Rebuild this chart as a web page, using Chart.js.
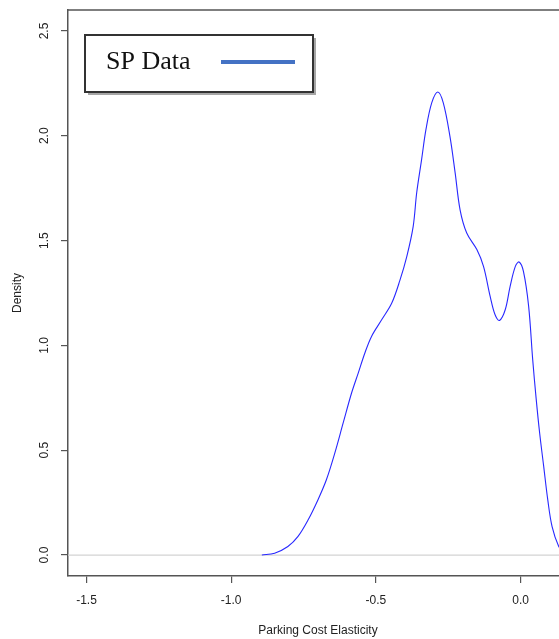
<!DOCTYPE html>
<html>
<head>
<meta charset="utf-8">
<script src="https://cdn.jsdelivr.net/npm/chart.js@4.4.1/dist/chart.umd.min.js"></script>
<style>
  html, body { margin:0; padding:0; background:#fff; overflow:hidden; }
  #wrap { position:relative; width:600px; height:639px; }
</style>
</head>
<body>
<div id="wrap"><canvas id="chart"></canvas></div>
<script>
// density estimate
var elasticity = [-0.894,-0.850,-0.804,-0.769,-0.734,-0.700,-0.671,-0.642,-0.613,-0.584,-0.561,-0.538,-0.515,-0.480,-0.445,-0.417,-0.393,-0.371,-0.359,-0.342,-0.327,-0.307,-0.286,-0.267,-0.244,-0.226,-0.209,-0.186,-0.151,-0.128,-0.105,-0.088,-0.073,-0.053,-0.036,-0.018,-0.005,0.010,0.028,0.042,0.054,0.066,0.080,0.094,0.109,0.132,0.150,0.170];
var density    = [0.000,0.009,0.041,0.089,0.168,0.264,0.359,0.486,0.630,0.773,0.868,0.964,1.043,1.122,1.202,1.310,1.425,1.568,1.727,1.886,2.029,2.157,2.209,2.157,1.997,1.823,1.647,1.536,1.457,1.377,1.234,1.146,1.119,1.170,1.282,1.377,1.398,1.353,1.186,0.932,0.745,0.582,0.423,0.264,0.136,0.041,0.012,0.002];
var xTicks = [-1.5, -1.0, -0.5, 0.0];
var yTicks = [0.0, 0.5, 1.0, 1.5, 2.0, 2.5];
var xMin = -1.564, xMax = 0.164;
var yMin = -0.1, yMax = 2.6;
var seriesName = "SP Data";
var xTitle = "Parking Cost Elasticity";
var yTitle = "Density";

var FONT = '"Liberation Sans", Arial, sans-serif';
var AXIS = "#555";
var TEXT = "#222";

var curve = elasticity.map(function(x, i){ return { x: x, y: density[i] }; });
var baseline = [{ x: xMin, y: 0 }, { x: xMax, y: 0 }];

// box, rotated y labels and the pasted-in legend
var frame = {
  id: "frame",
  afterDraw: function(chart){
    var ctx = chart.ctx, a = chart.chartArea, ys = chart.scales.y;
    ctx.save();
    ctx.strokeStyle = AXIS; ctx.lineWidth = 1.5;
    ctx.beginPath();
    ctx.moveTo(a.left, a.top); ctx.lineTo(a.right, a.top); ctx.lineTo(a.right, a.bottom);
    ctx.stroke();

    ctx.fillStyle = TEXT;
    ctx.font = "12px " + FONT;
    ctx.textAlign = "center"; ctx.textBaseline = "middle";
    ys.ticks.forEach(function(t){
      var py = ys.getPixelForValue(t.value);
      ctx.save();
      ctx.translate(45, py);
      ctx.rotate(-Math.PI / 2);
      ctx.fillText(t.value.toFixed(1), 0, 0);
      ctx.restore();
    });

    // legend
    var lx = 85, ly = 35, lw = 228, lh = 57;
    ctx.fillStyle = "rgba(0,0,0,0.35)";
    ctx.fillRect(lx + 3, ly + 3, lw, lh);
    ctx.fillStyle = "#fff";
    ctx.fillRect(lx, ly, lw, lh);
    ctx.strokeStyle = "#333"; ctx.lineWidth = 2;
    ctx.strokeRect(lx, ly, lw, lh);
    ctx.fillStyle = "#111";
    ctx.font = "26px \"Liberation Serif\", \"Times New Roman\", serif";
    ctx.textAlign = "left"; ctx.textBaseline = "alphabetic";
    ctx.fillText(seriesName, 106, 69);
    ctx.strokeStyle = "#4472c4"; ctx.lineWidth = 4;
    ctx.beginPath(); ctx.moveTo(221, 62); ctx.lineTo(295, 62); ctx.stroke();
    ctx.restore();
  }
};

new Chart(document.getElementById("chart"), {
  type: "line",
  data: {
    datasets: [
      { label: seriesName, data: curve, borderColor: "rgb(40,40,255)", borderWidth: 1.1, pointRadius: 0, tension: 0.35, fill: false, order: 0 },
      { label: "zero", data: baseline, borderColor: "#d3d3d3", borderWidth: 1.2, pointRadius: 0, fill: false, order: 1 }
    ]
  },
  options: {
    responsive: true, maintainAspectRatio: false, animation: false,
    layout: { padding: { left: 0, top: 10, right: 32, bottom: 0 } },
    plugins: { legend: { display: false }, tooltip: { enabled: false } },
    scales: {
      x: {
        type: "linear", min: xMin, max: xMax,
        afterBuildTicks: function(s){ s.ticks = xTicks.map(function(v){ return { value: v }; }); },
        afterFit: function(s){ s.height = 63; },
        grid: { drawOnChartArea: false, drawTicks: true, tickLength: 7, color: AXIS, lineWidth: 1.2 },
        border: { display: true, color: AXIS, width: 1.5 },
        ticks: { color: TEXT, font: { family: FONT, size: 12 }, padding: 10, maxRotation: 0, callback: function(v){ return Number(v).toFixed(1); } },
        title: { display: true, text: xTitle, color: TEXT, font: { family: FONT, size: 12 }, padding: { top: 0, bottom: 1 } }
      },
      y: {
        type: "linear", min: yMin, max: yMax,
        afterBuildTicks: function(s){ s.ticks = yTicks.map(function(v){ return { value: v }; }); },
        afterFit: function(s){ s.width = 68; },
        grid: { drawOnChartArea: false, drawTicks: true, tickLength: 7, color: AXIS, lineWidth: 1.2 },
        border: { display: true, color: AXIS, width: 1.5 },
        ticks: { display: false },
        title: { display: true, text: yTitle, color: TEXT, font: { family: FONT, size: 12 }, padding: { top: 10, bottom: 0 } }
      }
    }
  },
  plugins: [frame]
});
</script>
</body>
</html>
